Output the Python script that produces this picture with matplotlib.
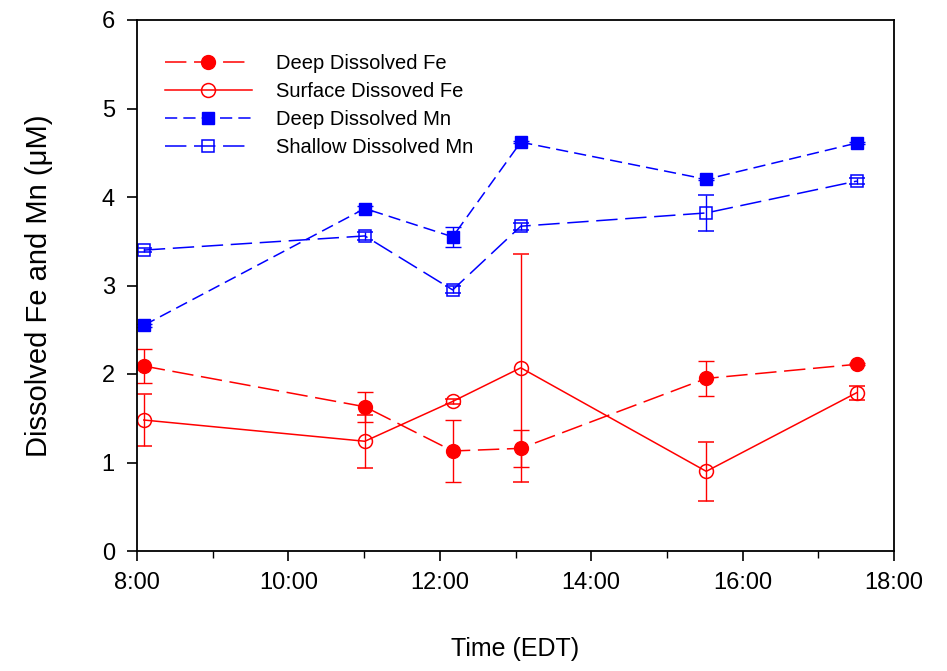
import matplotlib
matplotlib.use("Agg")
import matplotlib.pyplot as plt
from matplotlib.ticker import MultipleLocator, FuncFormatter
from matplotlib.lines import Line2D

# ---- data ----
time_h = [8.09, 11.01, 12.17, 13.07, 15.52, 17.51]

deep_fe = [2.09, 1.63, 1.13, 1.16, 1.95, 2.11]
deep_fe_err = [0.19, 0.17, 0.35, 0.21, 0.20, 0.01]

surf_fe = [1.48, 1.24, 1.69, 2.07, 0.90, 1.79]
surf_fe_err = [0.29, 0.30, 0.03, 1.29, 0.33, 0.08]

deep_mn = [2.55, 3.87, 3.55, 4.62, 4.20, 4.61]
deep_mn_err = [0.02, 0.03, 0.11, 0.01, 0.01, 0.01]

shal_mn = [3.40, 3.56, 2.95, 3.67, 3.82, 4.18]
shal_mn_err = [0.02, 0.05, 0.04, 0.04, 0.20, 0.03]

labels = ["Deep Dissolved Fe", "Surface Dissoved Fe", "Deep Dissolved Mn", "Shallow Dissolved Mn"]

plt.rcParams['font.family'] = ['Liberation Sans', 'DejaVu Sans']

fig = plt.figure(figsize=(9.47, 6.71), dpi=100)
ax = fig.add_axes([137/947, 1 - 551/671, (894-137)/947, (551-20)/671])

red = '#ff0000'
blue = '#0000ff'
lw = 1.1
ekw = dict(elinewidth=1.0, capsize=6, capthick=1.0)

styles = [
    dict(color=red, ls=(0, (14, 5)), lw=lw, marker='o', ms=10, mfc=red, mec=red),
    dict(color=red, ls='-', lw=lw, marker='o', ms=10, mfc='none', mec=red, mew=1.1),
    dict(color=blue, ls=(0, (8, 4)), lw=lw, marker='s', ms=9, mfc=blue, mec=blue),
    dict(color=blue, ls=(0, (14, 5)), lw=lw, marker='s', ms=8, mfc='none', mec=blue, mew=1.1),
]
series = [(deep_fe, deep_fe_err), (surf_fe, surf_fe_err), (deep_mn, deep_mn_err), (shal_mn, shal_mn_err)]

for (vals, errs), st in zip(series, styles):
    ax.errorbar(time_h, vals, yerr=errs, **st, **ekw)

ax.set_xlim(8, 18)
ax.set_ylim(0, 6)
ax.xaxis.set_major_locator(MultipleLocator(2))
ax.xaxis.set_minor_locator(MultipleLocator(1))
ax.yaxis.set_major_locator(MultipleLocator(1))
ax.xaxis.set_major_formatter(FuncFormatter(lambda v, p: f"{int(round(v))}:00"))

for s in ax.spines.values():
    s.set_linewidth(1.3)
ax.tick_params(axis='both', which='major', direction='out', length=7, width=1.2,
               top=False, right=False, labelsize=17)
ax.tick_params(axis='x', which='minor', direction='out', length=5, width=1.0, top=False)
ax.tick_params(axis='x', which='major', pad=8)
ax.tick_params(axis='y', which='major', pad=9)

ax.set_xlabel("Time (EDT)", fontsize=18, labelpad=31)
ax.set_ylabel("Dissolved Fe and Mn (\u03bcM)", fontsize=21, labelpad=35)

handles = [Line2D([], [], **st) for st in styles]
ax.legend(handles, labels, loc='upper left', bbox_to_anchor=(165/947, 1 - 54/671),
          bbox_transform=fig.transFigure, frameon=False, fontsize=14.5,
          handlelength=4.3, handletextpad=1.2, labelspacing=0.45,
          borderpad=0, borderaxespad=0)

fig.savefig("out.png", dpi=100)
